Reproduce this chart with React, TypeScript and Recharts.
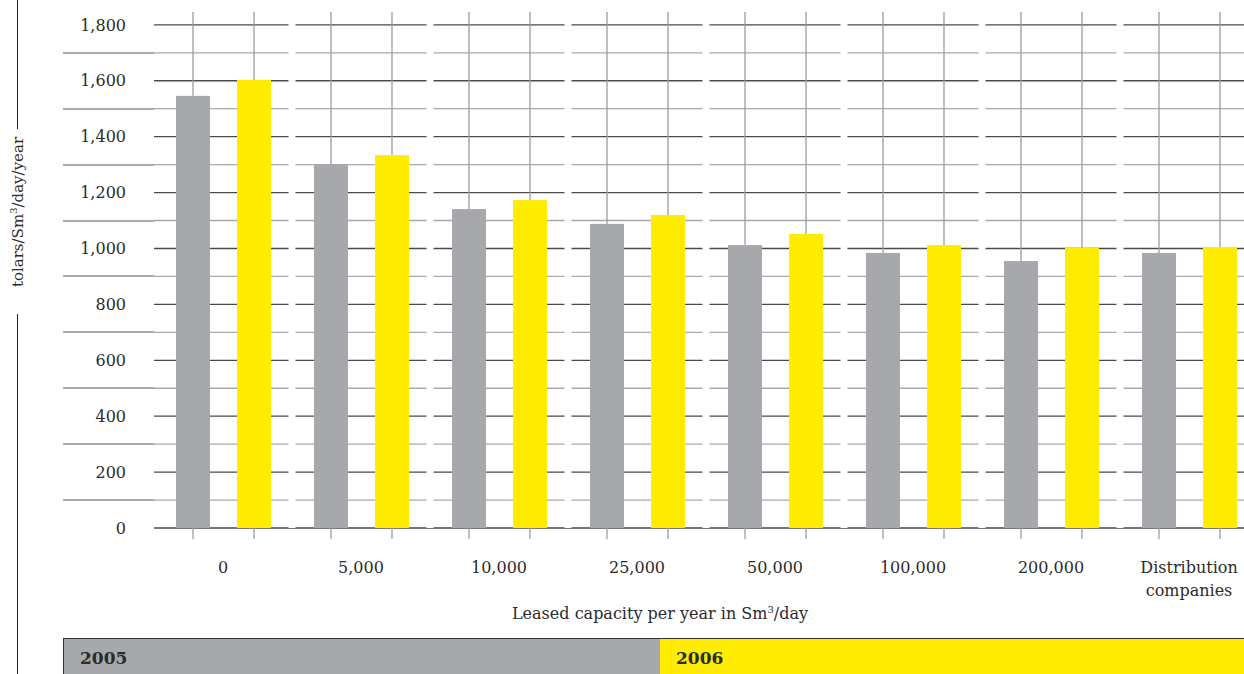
import React from 'react';
import { BarChart, Bar, XAxis, YAxis, CartesianGrid } from 'recharts';

const categories = ['0', '5,000', '10,000', '25,000', '50,000', '100,000', '200,000', 'Distribution companies'];
const seriesNames = ['2005', '2006'];
const values2005 = [1546, 1301, 1141, 1088, 1012, 984, 955, 984];
const values2006 = [1603, 1334, 1173, 1120, 1052, 1012, 1002, 1005];
const majorTicks = [0, 200, 400, 600, 800, 1000, 1200, 1400, 1600, 1800];
const minorTicks = [100, 300, 500, 700, 900, 1100, 1300, 1500, 1700];

const data = categories.map((name, i) => ({ name, v2005: values2005[i], v2006: values2006[i] }));

const Y_MAX = 1846;
const PLOT = { top: 12, height: 516, left: 154 };
const FONT = '"DejaVu Serif", serif';
const TEXT = '#2b2b2b';
const GREY = '#a7a8ab';
const YELLOW = '#ffec00';
const MAJOR = '#4a4a4a';
const MINOR = '#a9a9a9';
const GUIDE = '#9c9c9c';

const toY = (offset: any, v: number) => offset.top + offset.height * (1 - v / Y_MAX);

const gridRows = (vals: number[]) => ({ yAxis, offset }: any) =>
  vals.map((v) => (yAxis && typeof yAxis.scale === 'function' ? yAxis.scale(v) : toY(offset, v)));

const gapColumns = ({ offset }: any) =>
  categories.slice(1).map((_, i) => offset.left + ((i + 1) * offset.width) / categories.length);

const GuideBar = (props: any) => {
  const { x, y, width, height, fill, background } = props;
  const cx = x + width / 2;
  const top = background && background.y != null ? background.y : PLOT.top;
  const bottom = y + height;
  return (
    <g>
      <line x1={cx} x2={cx} y1={top} y2={y} stroke={GUIDE} strokeWidth={1.3} />
      <line x1={cx} x2={cx} y1={bottom} y2={bottom + 11} stroke={GUIDE} strokeWidth={1.3} />
      <rect x={x} y={y} width={width} height={height} fill={fill} />
    </g>
  );
};

const XTick = ({ x, y, payload }: any) => {
  const lines = String(payload.value).split(' ');
  return (
    <text x={x} y={y} textAnchor="middle" fontFamily={FONT} fontSize={16} fill={TEXT}>
      {lines.map((l, i) => (
        <tspan key={i} x={x} dy={i === 0 ? 45 : 23}>
          {l}
        </tspan>
      ))}
    </text>
  );
};

export default function App() {
  return (
    <div style={{ position: 'absolute', left: 0, top: 0, width: 1244, height: 674, overflow: 'hidden', background: '#fff', fontFamily: FONT, color: TEXT }}>
      <BarChart width={1258} height={674} data={data} barGap={27} margin={{ top: PLOT.top, right: 0, left: 0, bottom: 0 }}>
        <CartesianGrid vertical={false} stroke={MINOR} strokeWidth={1.3} horizontalCoordinatesGenerator={gridRows(minorTicks)} />
        <CartesianGrid vertical={false} stroke={MAJOR} strokeWidth={1.3} horizontalCoordinatesGenerator={gridRows(majorTicks)} />
        <CartesianGrid horizontal={false} stroke="#fff" strokeWidth={7} verticalCoordinatesGenerator={gapColumns} />
        <XAxis dataKey="name" height={146} tickLine={false} axisLine={false} tickSize={0} tickMargin={0} interval={0} tick={<XTick />} />
        <YAxis
          type="number"
          width={PLOT.left}
          domain={[0, Y_MAX]}
          ticks={majorTicks}
          interval={0}
          tickLine={false}
          axisLine={false}
          tickSize={0}
          tickMargin={28}
          tickFormatter={(v: number) => v.toLocaleString('en-US')}
          tick={{ fontFamily: FONT, fontSize: 16, fill: TEXT }}
        />
        <Bar dataKey="v2005" name={seriesNames[0]} fill={GREY} barSize={34} shape={<GuideBar />} isAnimationActive={false} />
        <Bar dataKey="v2006" name={seriesNames[1]} fill={YELLOW} barSize={34} shape={<GuideBar />} isAnimationActive={false} />
      </BarChart>

      {/* light rows run on into the label column */}
      {minorTicks.map((v) => (
        <div
          key={v}
          style={{ position: 'absolute', left: 63, width: PLOT.left - 63, top: Math.round(toY(PLOT, v)) - 1, height: 1.5, background: MINOR }}
        />
      ))}

      <div style={{ position: 'absolute', left: 17, top: 0, width: 1.2, height: 129, background: '#222' }} />
      <div style={{ position: 'absolute', left: 17, top: 314, width: 1.2, height: 360, background: '#222' }} />
      <div
        style={{
          position: 'absolute',
          left: 18,
          top: 212,
          transform: 'translate(-50%, -50%) rotate(-90deg)',
          whiteSpace: 'nowrap',
          fontSize: 15,
          lineHeight: '18px',
        }}
      >
        tolars/Sm<sup style={{ fontSize: 10, lineHeight: 0 }}>3</sup>/day/year
      </div>

      <div style={{ position: 'absolute', left: 460, width: 400, top: 604, textAlign: 'center', fontSize: 16, lineHeight: '20px', whiteSpace: 'nowrap' }}>
        Leased capacity per year in Sm<sup style={{ fontSize: 10, lineHeight: 0 }}>3</sup>/day
      </div>

      <div style={{ position: 'absolute', left: 63, top: 638, width: 1181, height: 36, borderTop: '1.5px solid #333', display: 'flex' }}>
        <div style={{ width: 597, background: GREY, borderLeft: '1px solid #333', boxSizing: 'border-box', paddingLeft: 16, fontWeight: 'bold', fontSize: 17, lineHeight: '38px' }}>
          {seriesNames[0]}
        </div>
        <div style={{ flex: 1, background: YELLOW, paddingLeft: 16, fontWeight: 'bold', fontSize: 17, lineHeight: '38px' }}>
          {seriesNames[1]}
        </div>
      </div>
    </div>
  );
}
